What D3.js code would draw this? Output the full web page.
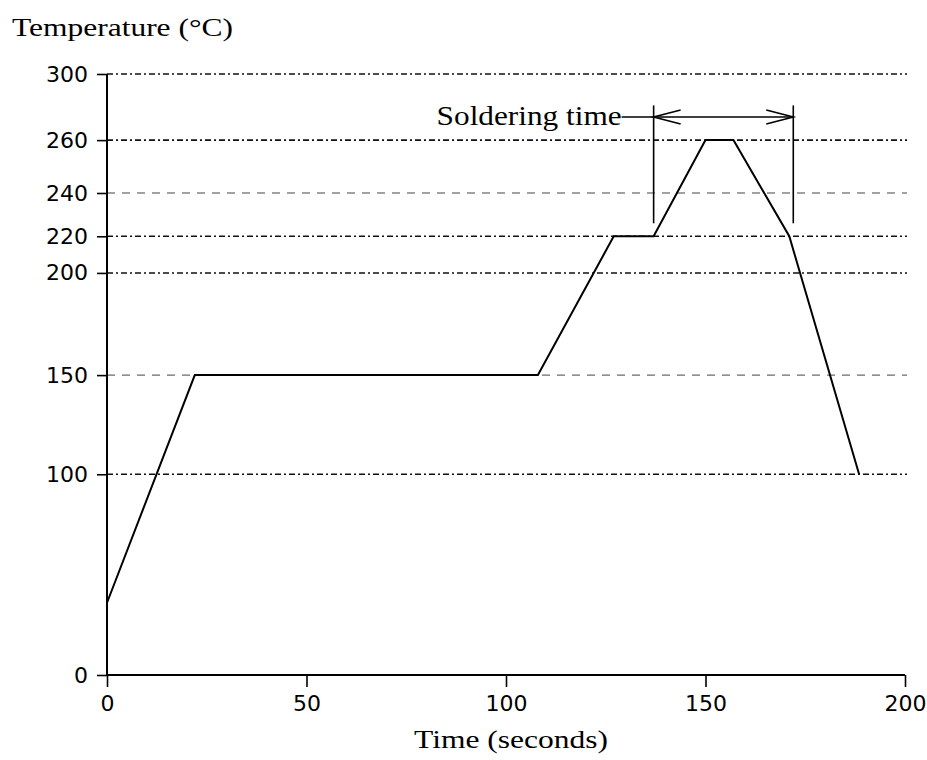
<!DOCTYPE html>
<html>
  <head>
    <meta charset="utf-8">
    <title>Soldering temperature profile</title>
    <style>
      body { margin: 0; background: white; }
      .tick-label { font-family: "DejaVu Sans", Arial, sans-serif; font-size: 22px; fill: black; }
      .title { font-family: "Liberation Serif", "Times New Roman", serif; font-size: 26px; fill: black; }
    </style>
  </head>
  <body>
    <script src="https://d3js.org/d3.v7.min.js"></script>
    <script>
      const width = 927;
      const height = 760;

      // profile data
      const timeSec = [0, 22, 108, 127, 137, 150, 157, 171, 188.5];
      const tempC = [36, 150, 150, 220, 220, 260, 260, 220, 100];

      const xTicks = [0, 50, 100, 150, 200];
      const yTicks = [0, 100, 150, 200, 220, 240, 260, 300];
      // the drawing's y axis is not evenly spaced: share of plot height at each tick
      const yTickShare = [0, 0.334, 0.499, 0.669, 0.730, 0.802, 0.890, 1];

      // grid lines: heavy dash-dot or light dashed
      const heavyGrid = [100, 200, 220, 260, 300];
      const lightGrid = [150, 240];

      // soldering time bracket
      const solderStart = 137;
      const solderEnd = 172;
      const bracketLow = 226;
      const bracketHigh = 281;
      const arrowTemp = 274;

      const margin = { left: 107, right: 22, top: 74, bottom: 85 };
      const plotW = width - margin.left - margin.right;
      const plotH = height - margin.top - margin.bottom;

      const svg = d3.select("body")
        .append("svg")
        .attr("width", width)
        .attr("height", height);

      const x = d3.scaleLinear()
        .domain([0, 200])
        .range([margin.left, margin.left + plotW]);

      const y = d3.scaleLinear()
        .domain(yTicks)
        .range(yTickShare.map(s => margin.top + plotH * (1 - s)));

      // grid
      svg.selectAll(".grid-heavy")
        .data(heavyGrid)
        .enter()
        .append("line")
        .attr("x1", x(0))
        .attr("x2", x(200) + 2)
        .attr("y1", d => y(d))
        .attr("y2", d => y(d))
        .attr("stroke", "#111")
        .attr("stroke-width", 1.6)
        .attr("stroke-dasharray", "6,3,2,3");

      svg.selectAll(".grid-light")
        .data(lightGrid)
        .enter()
        .append("line")
        .attr("x1", x(0))
        .attr("x2", x(200) + 2)
        .attr("y1", d => y(d))
        .attr("y2", d => y(d))
        .attr("stroke", "#444")
        .attr("stroke-width", 1)
        .attr("stroke-dasharray", "8,7");

      // axes
      const xAxis = d3.axisBottom(x)
        .tickValues(xTicks)
        .tickSize(12)
        .tickPadding(8)
        .tickFormat(d3.format("d"));

      const yAxis = d3.axisLeft(y)
        .tickValues(yTicks)
        .tickSize(10)
        .tickPadding(9)
        .tickFormat(d3.format("d"));

      const gx = svg.append("g")
        .attr("transform", `translate(0,${y(0)})`)
        .call(xAxis);

      const gy = svg.append("g")
        .attr("transform", `translate(${x(0)},0)`)
        .call(yAxis);

      [gx, gy].forEach(g => {
        g.attr("font-family", null).attr("font-size", null);
        g.select(".domain").attr("stroke-width", 2).attr("stroke", "black");
        g.selectAll(".tick line").attr("stroke-width", 1.6).attr("stroke", "black");
        g.selectAll(".tick text")
          .attr("class", "tick-label")
          .attr("fill", "black");
      });
      // remove the outer end ticks of the domain path
      gx.select(".domain").attr("d", `M${x(0)},0H${x(200)}`);
      gy.select(".domain").attr("d", `M0,${y(0)}V${y(300)}`);

      // profile line
      const profile = timeSec.map((t, i) => [t, tempC[i]]);
      svg.append("path")
        .datum(profile)
        .attr("fill", "none")
        .attr("stroke", "black")
        .attr("stroke-width", 2)
        .attr("stroke-linejoin", "miter")
        .attr("d", d3.line().x(d => x(d[0])).y(d => y(d[1])));

      // soldering time bracket
      [solderStart, solderEnd].forEach(t => {
        svg.append("line")
          .attr("x1", x(t)).attr("x2", x(t))
          .attr("y1", y(bracketHigh)).attr("y2", y(bracketLow))
          .attr("stroke", "black")
          .attr("stroke-width", 1.6);
      });

      const ay = y(arrowTemp);
      svg.append("text")
        .attr("class", "title")
        .attr("x", x(solderStart) - 217)
        .attr("y", ay + 8)
        .attr("textLength", 185)
        .attr("lengthAdjust", "spacingAndGlyphs")
        .style("font-size", "27px")
        .text("Soldering time");

      svg.append("line")
        .attr("x1", x(solderStart) - 32)
        .attr("x2", x(solderEnd))
        .attr("y1", ay).attr("y2", ay)
        .attr("stroke", "black")
        .attr("stroke-width", 1.6);

      const headLen = 27, headHalf = 7;
      svg.append("path")
        .attr("fill", "none")
        .attr("stroke", "black")
        .attr("stroke-width", 1.6)
        .attr("d",
          `M${x(solderStart) + headLen},${ay - headHalf}L${x(solderStart)},${ay}L${x(solderStart) + headLen},${ay + headHalf}` +
          `M${x(solderEnd) - headLen},${ay - headHalf}L${x(solderEnd)},${ay}L${x(solderEnd) - headLen},${ay + headHalf}`);

      // titles
      svg.append("text")
        .attr("class", "title")
        .attr("x", 12)
        .attr("y", 36)
        .attr("textLength", 221)
        .attr("lengthAdjust", "spacingAndGlyphs")
        .text("Temperature (°C)");

      svg.append("text")
        .attr("class", "title")
        .attr("x", 414)
        .attr("y", 748)
        .attr("textLength", 194)
        .attr("lengthAdjust", "spacingAndGlyphs")
        .text("Time (seconds)");
    </script>
  </body>
</html>
